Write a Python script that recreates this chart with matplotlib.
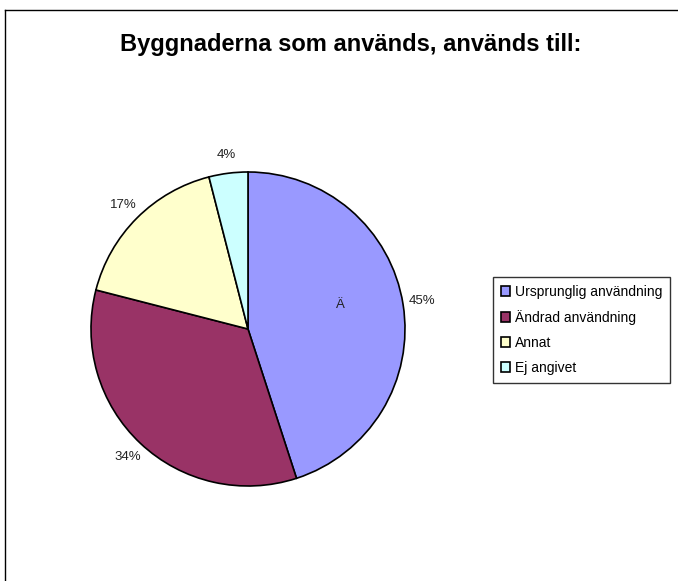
import matplotlib
matplotlib.use("Agg")
import matplotlib.pyplot as plt
from matplotlib.patches import Patch
from matplotlib.lines import Line2D

plt.rcParams['font.family'] = ['Liberation Sans', 'DejaVu Sans']

title = "Byggnaderna som används, används till:"
categories = ["Ursprunglig användning", "Ändrad användning", "Annat", "Ej angivet"]
values = [45, 34, 17, 4]
colors = ["#9999FF", "#993366", "#FFFFCC", "#CCFFFF"]
pct_labels = ["45%", "34%", "17%", "4%"]

W, H = 678, 581
fig = plt.figure(figsize=(W / 100, H / 100), dpi=100)
fig.patch.set_facecolor("white")

# frame (left and top edges visible)
fig.add_artist(Line2D([5 / W, 5 / W], [0, 1 - 10 / H], transform=fig.transFigure,
                      color="black", lw=1.0))
fig.add_artist(Line2D([5 / W, 1], [1 - 10 / H, 1 - 10 / H], transform=fig.transFigure,
                      color="black", lw=1.0))

cx, cy, r = 248, 329, 157
ax = fig.add_axes([(cx - r) / W, (H - cy - r) / H, 2 * r / W, 2 * r / H])
wedges, texts = ax.pie(values, colors=colors, startangle=90, counterclock=False,
                       labels=pct_labels, labeldistance=1.12,
                       wedgeprops=dict(edgecolor="black", linewidth=1.2),
                       textprops=dict(fontsize=9.5, color="#222222"))
for t in texts:
    t.set_horizontalalignment("center")
    t.set_verticalalignment("center")
ax.set_xlim(-1, 1)
ax.set_ylim(-1, 1)
ax.axis("off")

# stray character inside blue slice
ax.text(0.59, 0.15, "Ä", fontsize=9.5, color="#222222", ha="center", va="center")

fig.text(351 / W, 1 - 45 / H, title, fontsize=17, fontweight="bold",
         ha="center", va="center")

handles = [Patch(facecolor=c, edgecolor="black", linewidth=1.2) for c in colors]
leg = fig.legend(handles, categories, loc="upper left",
                 bbox_to_anchor=(493 / W, 1 - 277 / H),
                 frameon=True, fancybox=False, fontsize=10,
                 handlelength=0.7, handleheight=0.7, handletextpad=0.3,
                 labelspacing=0.8, borderpad=0.55, borderaxespad=0)
leg.get_frame().set_edgecolor("black")
leg.get_frame().set_linewidth(1.0)

fig.savefig("out.png", dpi=100, facecolor="white")
